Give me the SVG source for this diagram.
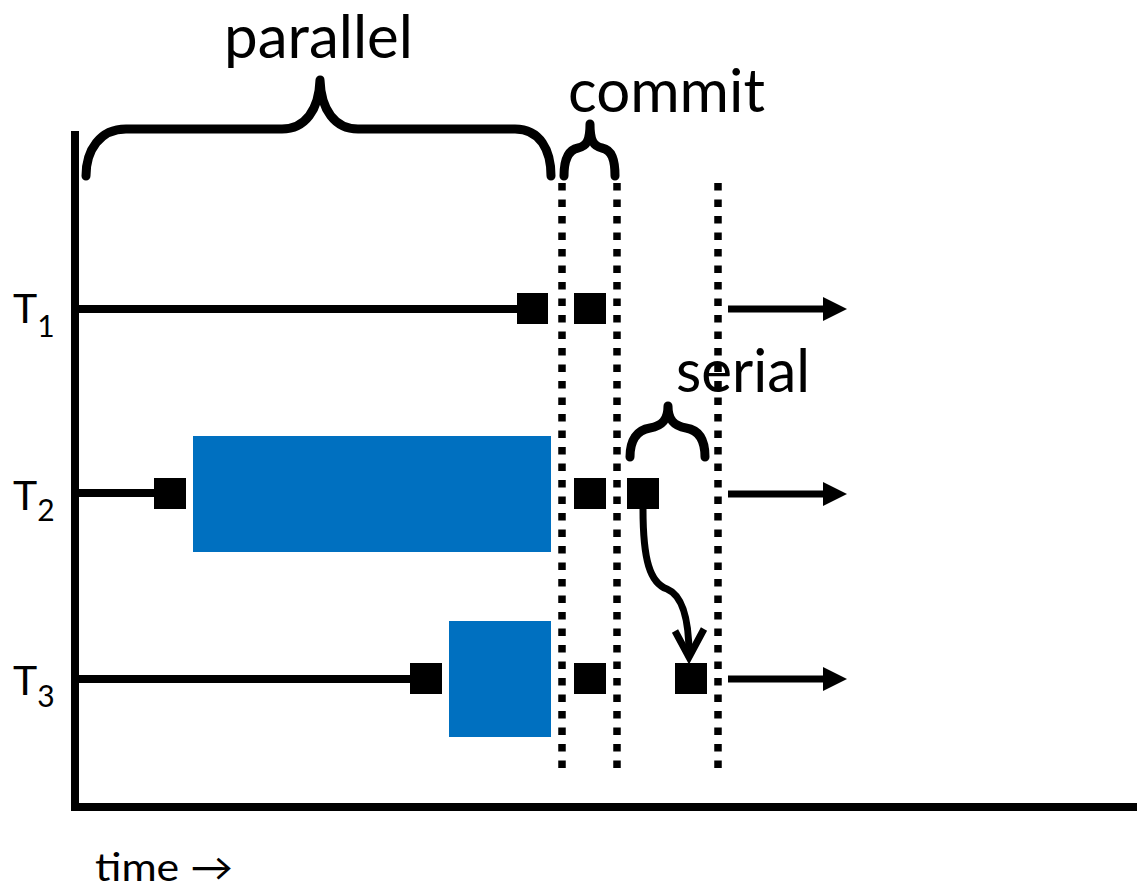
<svg xmlns="http://www.w3.org/2000/svg" width="1137" height="890" viewBox="0 0 1137 890">
  <style>
    .lbl { font-family: Lato, "Liberation Sans", sans-serif; fill: #000; }
    .axis { stroke: #000; stroke-width: 8; fill: none; }
    .track { stroke: #000; stroke-width: 8; fill: none; }
    .brace { stroke: #000; stroke-width: 9; fill: none; stroke-linecap: round; stroke-linejoin: round; }
    .dots { stroke: #000; stroke-width: 7.5; stroke-dasharray: 7.5 9; fill: none; }
    .op { fill: #000; }
    .work { fill: #0070C0; }
    .flow { stroke: #000; stroke-width: 7; fill: none; }
  </style>
  <defs>
    <marker id="head" markerUnits="userSpaceOnUse" markerWidth="24" markerHeight="24" refX="0" refY="12" orient="auto">
      <path d="M0,0 L24,12 L0,24 Z" fill="#000"/>
    </marker>
  </defs>
  <rect width="1137" height="890" fill="#fff"/>

  <!-- axes -->
  <g id="axes">
    <line class="axis" x1="75" y1="131" x2="75" y2="811"/>
    <line class="axis" x1="71" y1="807" x2="1137" y2="807"/>
  </g>

  <!-- phase boundaries -->
  <g id="boundaries">
    <line class="dots" x1="562" y1="183" x2="562" y2="770"/>
    <line class="dots" x1="617" y1="183" x2="617" y2="770"/>
    <line class="dots" x1="718" y1="183" x2="718" y2="770"/>
  </g>

  <!-- phase braces and labels -->
  <g id="parallel">
    <path class="brace" d="M86,176 C86,150 100,129 126,129 L282,129 C305,129 319,110 320,80 C321,110 335,129 358,129 L515,129 C540,129 551,150 551,176"/>
    <text class="lbl" x="224" y="58" font-size="60" textLength="189" lengthAdjust="spacingAndGlyphs">parallel</text>
  </g>
  <g id="commit">
    <path class="brace" d="M564,176 C564,160 568,150 578,148 C587,146 590,140 590,124 C590,140 593,146 602,148 C612,150 615,160 615,176"/>
    <text class="lbl" x="568" y="112" font-size="60" textLength="197" lengthAdjust="spacingAndGlyphs">commit</text>
  </g>
  <g id="serial">
    <path class="brace" d="M630,457 C630,440 637,430 650,428 C662,426 668,420 668,406 C668,420 674,426 686,428 C699,430 705,440 705,457"/>
    <text class="lbl" x="676" y="392" font-size="60" textLength="134" lengthAdjust="spacingAndGlyphs">serial</text>
  </g>

  <!-- thread T1 -->
  <g id="t1">
    <text class="lbl" x="13" y="323" font-size="41">T<tspan font-size="30" dy="14">1</tspan></text>
    <line class="track" x1="79" y1="309" x2="517" y2="309"/>
    <rect class="op" x="517" y="293" width="31" height="31"/>
    <rect class="op" x="574" y="293" width="32" height="31"/>
  </g>

  <!-- thread T2 -->
  <g id="t2">
    <text class="lbl" x="13" y="510" font-size="41">T<tspan font-size="30" dy="11">2</tspan></text>
    <line class="track" x1="79" y1="493" x2="154" y2="493"/>
    <rect class="op" x="154" y="478" width="32" height="31"/>
    <rect class="work" x="193" y="436" width="358" height="116"/>
    <rect class="op" x="574" y="478" width="32" height="31"/>
    <rect class="op" x="627" y="478" width="32" height="31"/>
  </g>

  <!-- thread T3 -->
  <g id="t3">
    <text class="lbl" x="13" y="695" font-size="41">T<tspan font-size="30" dy="12">3</tspan></text>
    <line class="track" x1="79" y1="679" x2="410" y2="679"/>
    <rect class="op" x="410" y="663" width="32" height="31"/>
    <rect class="work" x="449" y="621" width="102" height="116"/>
    <rect class="op" x="574" y="663" width="32" height="31"/>
    <rect class="op" x="675" y="663" width="32" height="31"/>
  </g>

  <!-- connectors -->
  <g id="connectors">
    <line class="flow" x1="728" y1="309" x2="823" y2="309" marker-end="url(#head)"/>
    <line class="flow" x1="728" y1="494" x2="823" y2="494" marker-end="url(#head)"/>
    <line class="flow" x1="728" y1="679" x2="823" y2="679" marker-end="url(#head)"/>
    <path class="flow" stroke-width="8" d="M643,509 C643,560 650,583 667,589 C684,596 689,625 689,655"/>
    <path class="flow" stroke-width="8" stroke-linejoin="miter" d="M675,631 L689,657 L704,629"/>
  </g>

  <text class="lbl" x="95" y="881" font-size="38" textLength="138" lengthAdjust="spacingAndGlyphs">time →</text>
</svg>
